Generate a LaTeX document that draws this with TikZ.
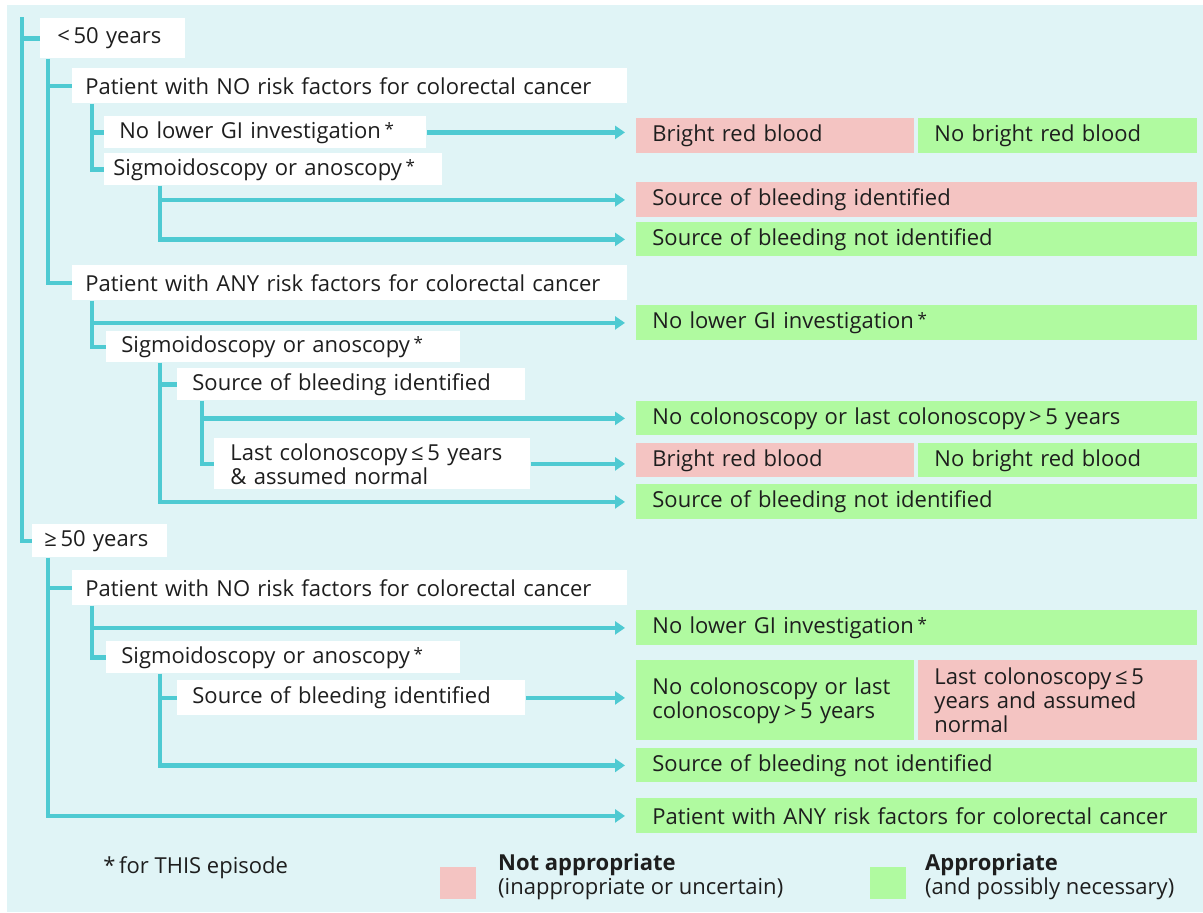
\documentclass[tikz,border=0pt]{standalone}
\usepackage{fontspec}
\setmainfont{Open Sans}
\usetikzlibrary{arrows.meta,positioning}
\definecolor{branch}{RGB}{78,202,210}
\definecolor{paneback}{RGB}{224,244,246}
\definecolor{badfill}{RGB}{244,196,194}
\definecolor{goodfill}{RGB}{176,250,160}
\definecolor{inkcol}{RGB}{30,30,30}
\newcommand{\astr}{\,\raisebox{.25ex}{\fontsize{8.5}{8.5}\selectfont*}}
\begin{document}
\begin{tikzpicture}[x=0.5pt,y=-0.5pt,font=\fontsize{11}{12}\selectfont,text=inkcol,
  wbox/.style={fill=white,anchor=north west,align=left,inner xsep=6.5pt,inner ysep=0pt},
  obox/.style={anchor=north west,align=left,inner xsep=8pt,inner ysep=0pt,text width=264.5pt,
  minimum height=17.5pt},good/.style={obox,fill=goodfill},bad/.style={obox,fill=badfill},
  half/.style={text width=123pt},tree/.style={draw=branch,line width=2.2pt},
  arr/.style={tree,-{Triangle[length=5pt,width=6.5pt]},shorten >=5.5pt}]
\useasboundingbox (0,0) rectangle (1203,912);
\fill[paneback] (7,5) rectangle (1203,912);
\coordinate (root) at (22,17);
\node[wbox,inner xsep=8.5pt,text width=55.5pt,minimum height=20pt] (lt50) at (40,18) {<\,50 years};
\node[wbox,text width=264.5pt,minimum height=17.5pt] (nofac1) at (72,68) {Patient with NO risk factors for colorectal cancer};
\node[wbox,inner xsep=7.5pt,text width=146pt,minimum height=16pt] (nolow1) at (104,116) {No lower GI investigation\astr};
\node[wbox,inner xsep=4.5pt,text width=160pt,minimum height=16pt] (sig1) at (104,153) {Sigmoidoscopy or anoscopy\astr};
\node[wbox,text width=264.5pt,minimum height=17.5pt] (anyfac1) at (72,265) {Patient with ANY risk factors for colorectal cancer};
\node[wbox,inner xsep=7.5pt,text width=162pt,minimum height=15.5pt] (sig2) at (106,331) {Sigmoidoscopy or anoscopy\astr};
\node[wbox,inner xsep=7.5pt,text width=159pt,minimum height=16pt] (src2) at (177,368) {Source of bleeding identified};
\node[wbox,inner xsep=8pt,text width=142pt,minimum height=25.5pt] (last2) at (214,438) {Last colonoscopy\,≤\,5 years\\\& assumed normal};
\node[wbox,inner xsep=6pt,text width=55.5pt,minimum height=16.5pt] (ge50) at (32,524) {≥\,50 years};
\node[wbox,text width=264.5pt,minimum height=17.5pt] (nofac3) at (72,570) {Patient with NO risk factors for colorectal cancer};
\node[wbox,inner xsep=7.5pt,text width=162pt,minimum height=16pt] (sig3) at (106,641) {Sigmoidoscopy or anoscopy\astr};
\node[wbox,inner xsep=7.5pt,text width=159pt,minimum height=17.5pt] (src3) at (177,680) {Source of bleeding identified};
\node[bad,half] (brb1) at (636,118) {Bright red blood};
\node[good,half,text width=123.5pt] (nbrb1) at (918,118) {No bright red blood};
\node[bad] (srcid1) at (636,182) {Source of bleeding identified};
\node[good,minimum height=17pt] (srcnot1) at (636,222) {Source of bleeding not identified};
\node[good] (nolow2) at (636,305) {No lower GI investigation\astr};
\node[good,minimum height=17pt] (nocol2) at (636,401) {No colonoscopy or last colonoscopy\,>\,5 years};
\node[bad,half,minimum height=17pt] (brb2) at (636,443) {Bright red blood};
\node[good,half,text width=123.5pt,minimum height=17pt] (nbrb2) at (918,443) {No bright red blood};
\node[good] (srcnot2) at (636,484) {Source of bleeding not identified};
\node[good] (nolow3) at (636,610) {No lower GI investigation\astr};
\node[good,half,minimum height=40pt] (nocol3) at (636,660) {No colonoscopy or last\\colonoscopy\,>\,5 years};
\node[bad,half,text width=123.5pt,minimum height=40pt] (last3) at (918,660) {Last colonoscopy\,≤\,5\\years and assumed\\normal};
\node[good,minimum height=17pt] (srcnot3) at (636,748) {Source of bleeding not identified};
\node[good] (anyfac3) at (636,798) {Patient with ANY risk factors for colorectal cancer};
\node[anchor=west,inner sep=0pt] (foot) at (103,868) {*\,for THIS episode};
\node[fill=badfill,anchor=north west,minimum width=18pt,minimum height=16pt,inner sep=0pt] (keybad) at (440,867) {};
\node[right=10.5pt of keybad,yshift=3.5pt,align=left,inner sep=0pt] (keybadtxt) {\textbf{Not appropriate}\\(inappropriate or uncertain)};
\node[fill=goodfill,anchor=north west,minimum width=18pt,minimum height=16pt,inner sep=0pt] (keygood) at (870,867) {};
\node[right=9pt of keygood,yshift=3.5pt,align=left,inner sep=0pt] (keygoodtxt) {\textbf{Appropriate}\\(and possibly necessary)};
\draw[tree] (root) |- (lt50.west);
\draw[tree] (root) |- (ge50.west);
\draw[tree] ([xshift=4pt]lt50.south west) |- (nofac1.west);
\draw[tree] ([xshift=4pt]lt50.south west) |- (anyfac1.west);
\draw[tree] ([xshift=10pt]nofac1.south west) |- (nolow1.west);
\draw[tree] ([xshift=10pt]nofac1.south west) |- (sig1.west);
\draw[arr] (nolow1.east) -- (nolow1.east -| brb1.west);
\draw[arr] ([xshift=28pt]sig1.south west) |- (srcid1.west);
\draw[arr] ([xshift=28pt]sig1.south west) |- (srcnot1.west);
\draw[arr] ([xshift=10pt]anyfac1.south west) |- (nolow2.west);
\draw[tree] ([xshift=10pt]anyfac1.south west) |- (sig2.west);
\draw[tree] ([xshift=27pt]sig2.south west) |- (src2.west);
\draw[arr] ([xshift=27pt]sig2.south west) |- (srcnot2.west);
\draw[arr] ([xshift=12.5pt]src2.south west) |- (nocol2.west);
\draw[tree] ([xshift=12.5pt]src2.south west) |- (last2.west);
\draw[arr] (last2.east) -- (last2.east -| brb2.west);
\draw[tree] ([xshift=8pt]ge50.south west) |- (nofac3.west);
\draw[arr] ([xshift=8pt]ge50.south west) |- (anyfac3.west);
\draw[arr] ([xshift=10pt]nofac3.south west) |- (nolow3.west);
\draw[tree] ([xshift=10pt]nofac3.south west) |- (sig3.west);
\draw[tree] ([xshift=27pt]sig3.south west) |- (src3.west);
\draw[arr] ([xshift=27pt]sig3.south west) |- (srcnot3.west);
\draw[arr] (src3.east) -- (src3.east -| nocol3.west);
\end{tikzpicture}
\end{document}
